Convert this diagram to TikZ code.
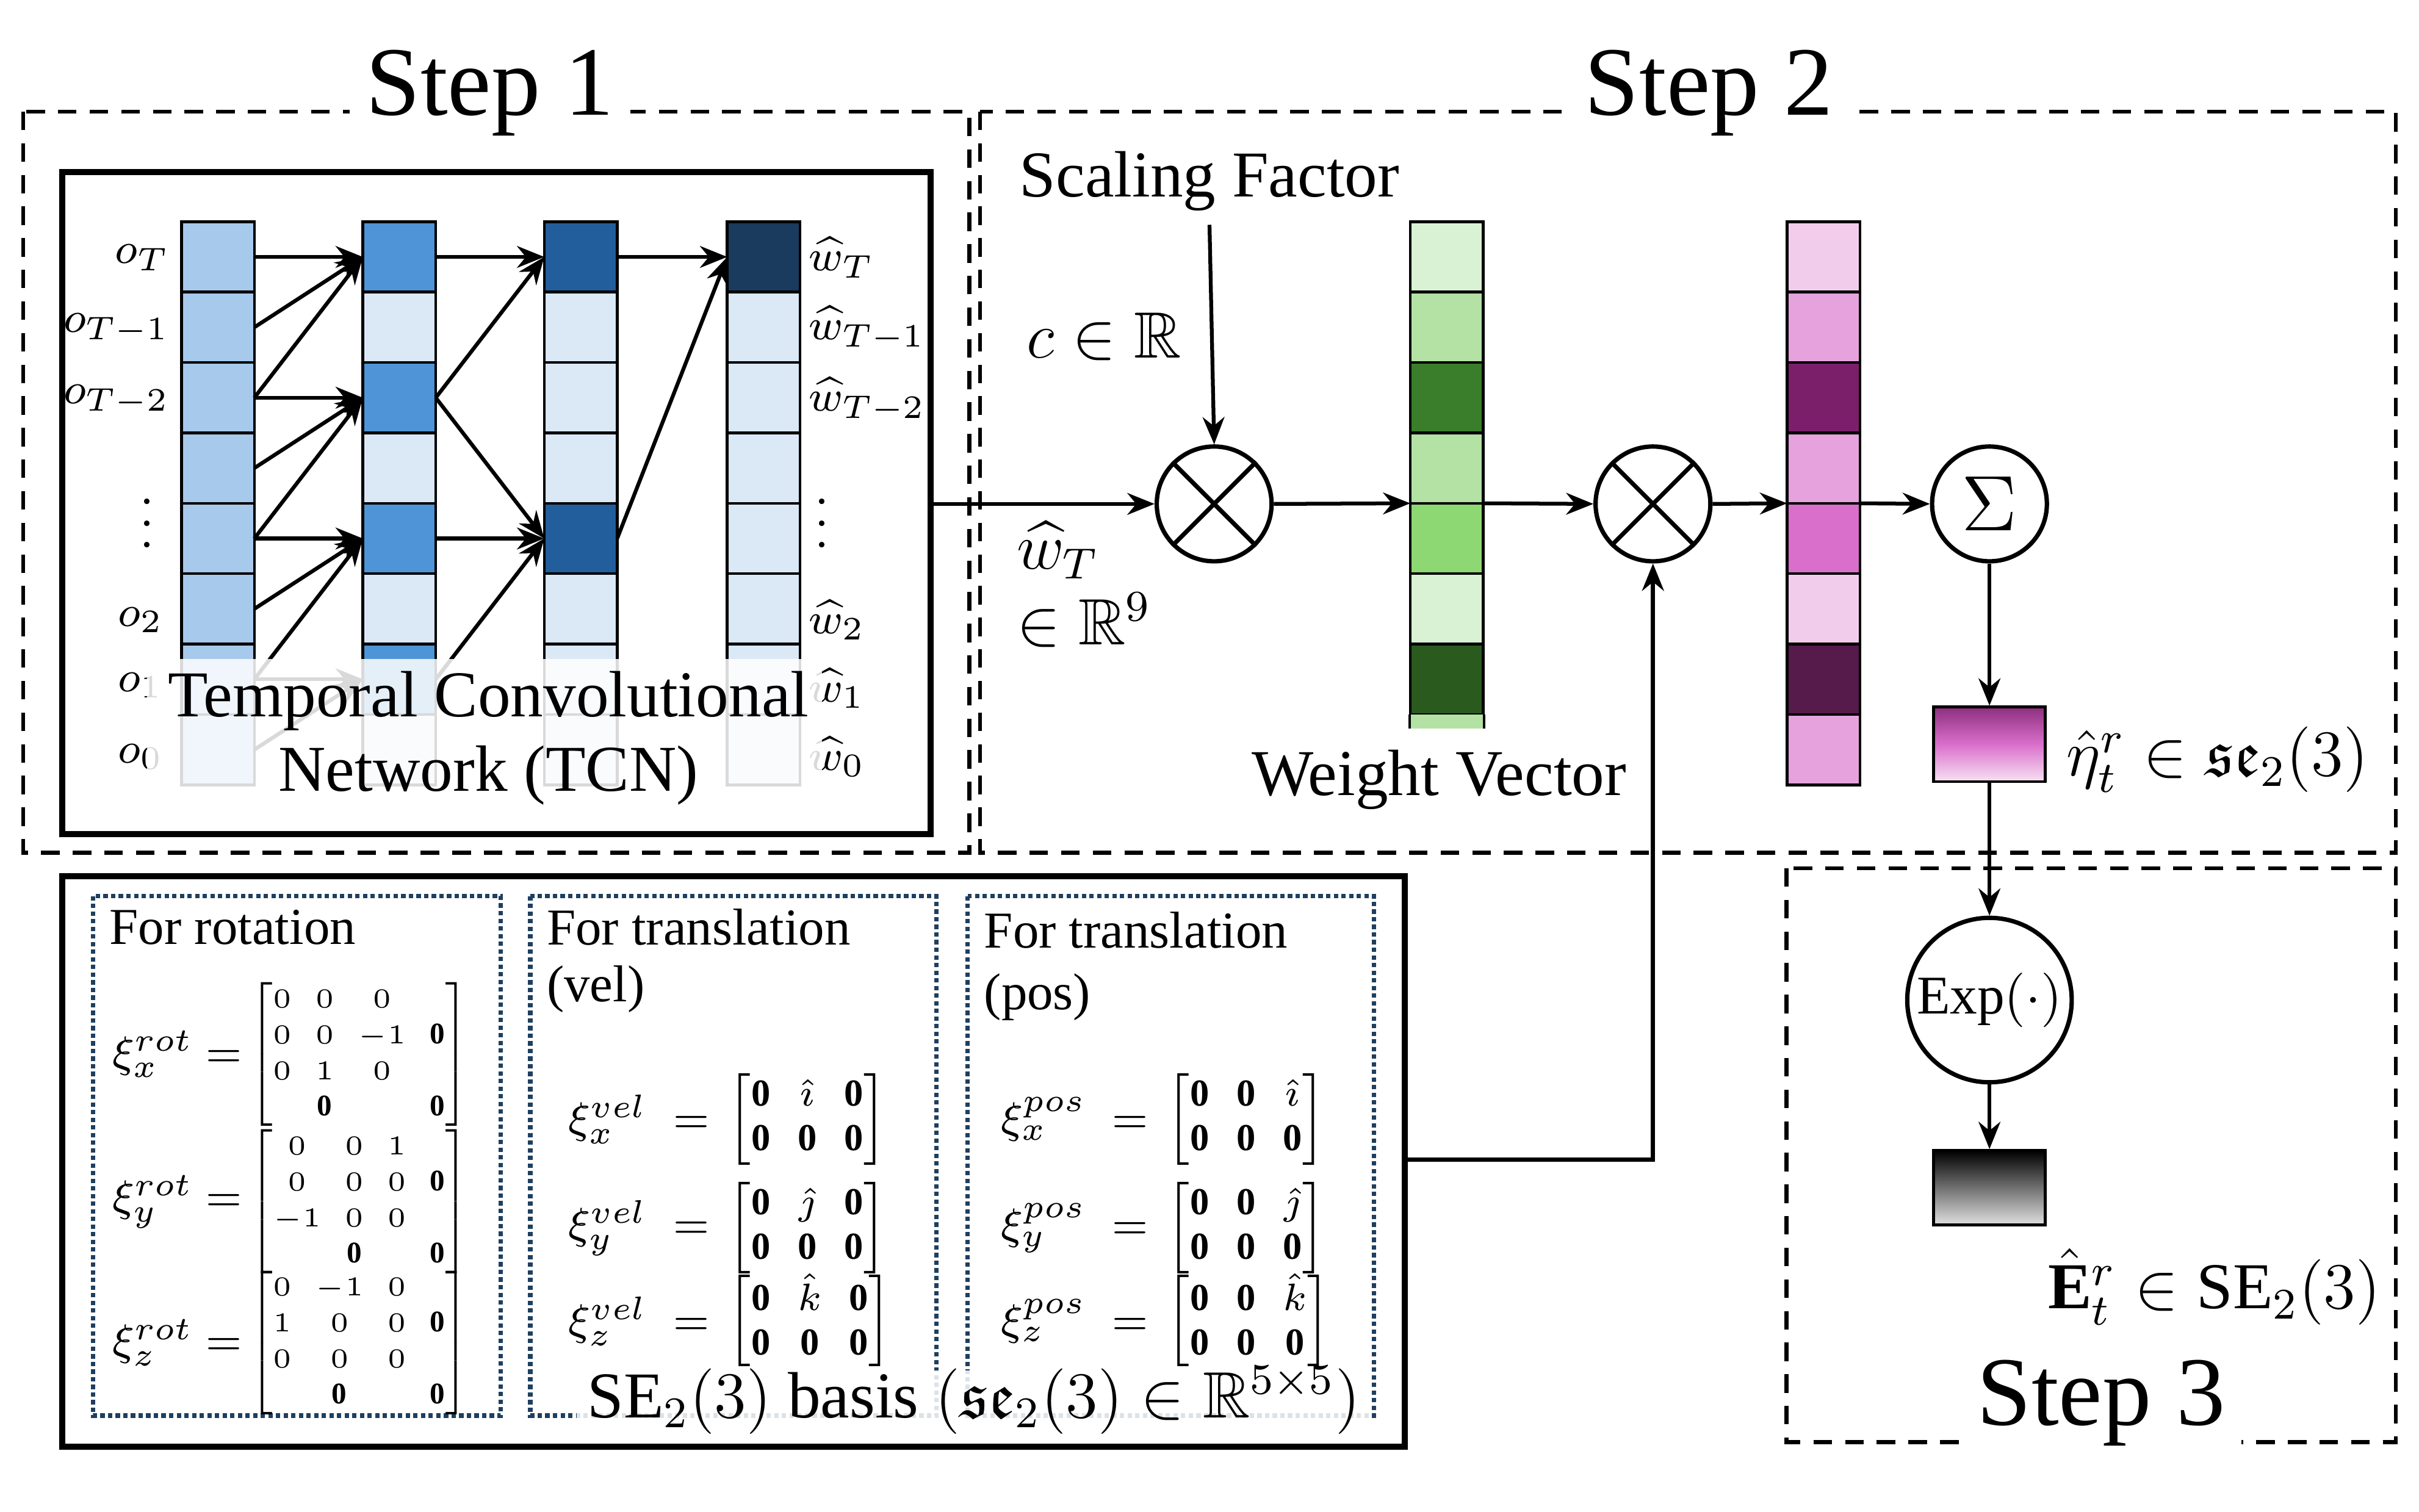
\documentclass[tikz,border=0pt]{standalone}
\usepackage{amsmath,amssymb}
\usepackage{fontspec}
\setmainfont{Liberation Serif}
\usetikzlibrary{arrows.meta}
\definecolor{cA}{HTML}{A6C9EC}
\definecolor{cB}{HTML}{4F94D6}
\definecolor{cC}{HTML}{225E9C}
\definecolor{cD}{HTML}{1A3A5E}
\definecolor{cL}{HTML}{DBE8F6}
\definecolor{g1}{HTML}{DAF2D4}
\definecolor{g2}{HTML}{B3E2A4}
\definecolor{g3}{HTML}{3A7D2A}
\definecolor{g4}{HTML}{8DD873}
\definecolor{g5}{HTML}{2A5A1E}
\definecolor{p1}{HTML}{F2CDEB}
\definecolor{p2}{HTML}{E6A2DC}
\definecolor{p3}{HTML}{7B1F6A}
\definecolor{p4}{HTML}{D96FCB}
\definecolor{p5}{HTML}{561A4B}
\definecolor{dotc}{HTML}{1F3F5F}
\begin{document}
\begin{tikzpicture}[x=0.01cm,y=-0.01cm,
  dbox/.style={draw, line width=0.75pt, dash pattern=on 3.4pt off 2.4pt},
  sbox/.style={draw, line width=1.1pt},
  ibox/.style={draw=dotc, line width=0.8pt, dash pattern=on 0.8pt off 0.6pt},
  cell/.style={draw, line width=0.5pt, minimum width=0.47cm, minimum height=0.454cm, inner sep=0pt, outer sep=0pt},
  arr/.style={-{Stealth[length=5pt,width=4pt]}, line width=0.7pt},
  circ/.style={draw, circle, line width=0.8pt, inner sep=0pt, minimum size=0.74cm},
  steptitle/.style={fill=white, inner sep=3pt, font=\fontsize{18}{21}\selectfont},
  lab/.style={font=\fontsize{8.5}{10}\selectfont, inner sep=0pt},
  big/.style={font=\fontsize{12}{14}\selectfont, inner sep=0pt},
  mid/.style={font=\fontsize{9.5}{11}\selectfont, inner sep=0pt},
  rmat/.style={font=\fontsize{5.5}{6.6}\selectfont, inner sep=0pt, anchor=west, xshift=1pt},
  tmat/.style={font=\fontsize{7}{8.2}\selectfont, inner sep=0pt, anchor=west, xshift=3pt}]
\useasboundingbox (0,0) rectangle (1560,975);
\fill[white] (0,0) rectangle (1560,975);
% step boxes
\draw[dbox] (15,72) rectangle (625,550);
\draw[dbox] (632,72) rectangle (1545,550);
\draw[dbox] (1152,560) rectangle (1545,930);
\node[steptitle] (s1) at (316,60) {Step 1};
\node[steptitle] (s2) at (1102,60) {Step 2};
\node[steptitle] (s3) at (1355,905) {Step 3};
% TCN
\draw[sbox] (40,111) rectangle (600,538);
\foreach \c/\x in {1/117,2/234,3/351,4/469}{
  \foreach \r in {0,...,7}{
    \pgfmathsetmacro{\yy}{143+45.4*\r+22.7}
    \def\col{cL}
    \ifnum\c=1 \def\col{cA}\fi
    \ifnum\c=2 \ifodd\r\else\def\col{cB}\fi\fi
    \ifnum\c=3 \ifnum\r=0 \def\col{cC}\fi\ifnum\r=4 \def\col{cC}\fi\fi
    \ifnum\c=4 \ifnum\r=0 \def\col{cD}\fi\fi
    \node[cell, fill=\col] (c\c r\r) at (\x+23.5,\yy) {};
  }}
\foreach \a/\b in {0/0,1/0,2/0,2/2,3/2,4/2,4/4,5/4,6/4,6/6,7/6}{
  \draw[arr] (c1r\a.east) -- (c2r\b.west);}
\foreach \a/\b in {0/0,2/0,2/4,4/4,6/4}{
  \draw[arr] (c2r\a.east) -- (c3r\b.west);}
\foreach \a/\b in {0/0,4/0}{
  \draw[arr] (c3r\a.east) -- (c4r\b.west);}
% labels
\node[lab, anchor=east] (lo0) at (110,166) {$o_T$};
\node[lab, anchor=east] (lo1) at (110,212) {$o_{T-1}$};
\node[lab, anchor=east] (lo2) at (110,258) {$o_{T-2}$};
\node[lab] (lod) at (95,327) {$\vdots$};
\node[lab, anchor=east] (lo5) at (106,400) {$o_2$};
\node[lab, anchor=east] (lo6) at (106,442) {$o_1$};
\node[lab, anchor=east] (lo7) at (106,488) {$o_0$};
\node[lab, anchor=west] (lw0) at (521,166) {$\widehat{w}_T$};
\node[lab, anchor=west] (lw1) at (521,212) {$\widehat{w}_{T-1}$};
\node[lab, anchor=west] (lw2) at (521,258) {$\widehat{w}_{T-2}$};
\node[lab] (lwd) at (530,327) {$\vdots$};
\node[lab, anchor=west] (lw5) at (521,400) {$\widehat{w}_2$};
\node[lab, anchor=west] (lw6) at (521,444) {$\widehat{w}_1$};
\node[lab, anchor=west] (lw7) at (521,488) {$\widehat{w}_0$};
\fill[white, opacity=0.85] (95,425) rectangle (530,512);
\node[big] (t1) at (315,452) {Temporal Convolutional};
\node[big] (t2) at (315,500) {Network (TCN)};
% step 2
\coordinate (tcnout) at (600,325);
\node[circ] (m1) at (783,325) {};
\draw[line width=0.8pt] (m1.45) -- (m1.225) (m1.135) -- (m1.315);
\node[big] (sf) at (780,117) {Scaling Factor};
\node[big] (cr) at (712,217) {$c\in\mathbb{R}$};
\coordinate (sfb) at (780,145);
\draw[arr] (sfb) -- (m1.north);
\draw[arr] (tcnout) -- (m1.west);
\node[big, anchor=west] (wt) at (655,355) {$\widehat{w}_T$};
\node[big, anchor=west] (r9) at (655,400) {$\in\mathbb{R}^9$};
\foreach \r/\col in {0/g1,1/g2,2/g3,3/g2,4/g4,5/g1,6/g5}{
  \node[cell, fill=\col] (g\r) at (933,143+45.4*\r+22.7) {};}
\fill[g2] (909.5,461) rectangle (956.5,470);
\draw[line width=0.5pt] (909,461) -- (909,470) (957,461) -- (957,470);
\node[big] (wv) at (928,503) {Weight Vector};
\draw[arr] (m1.east) -- (g3.south west);
\node[circ] (m2) at (1066,325) {};
\draw[line width=0.8pt] (m2.45) -- (m2.225) (m2.135) -- (m2.315);
\draw[arr] (g3.south east) -- (m2.west);
\foreach \r/\col in {0/p1,1/p2,2/p3,3/p2,4/p4,5/p1,6/p5,7/p2}{
  \node[cell, fill=\col] (p\r) at (1176,143+45.4*\r+22.7) {};}
\draw[arr] (m2.east) -- (p3.south west);
\node[circ, font=\fontsize{14}{16}\selectfont] (sum) at (1283,325) {$\Sigma$};
\draw[arr] (p3.south east) -- (sum.west);
\node[draw, line width=0.5pt, minimum width=0.72cm, minimum height=0.48cm, inner sep=0pt, top color=p3!80!p4, bottom color=p1!60!white, middle color=p4] (eta) at (1283,480) {};
\draw[arr] (sum.south) -- (eta.north);
\node[big, anchor=west] (etal) at (1332,490) {$\hat{\eta}_t^r\in\mathfrak{se}_2(3)$};
% step 3
\node[draw, circle, line width=0.8pt, minimum size=1.06cm, inner sep=0pt, font=\fontsize{10}{12}\selectfont] (exp) at (1283,645) {Exp$(\cdot)$};
\draw[arr] (eta.south) -- (exp.north);
\node[draw, line width=0.5pt, minimum width=0.72cm, minimum height=0.48cm, inner sep=0pt, top color=black, bottom color=black!12] (E) at (1283,766) {};
\draw[arr] (exp.south) -- (E.north);
\node[big, anchor=east] (El) at (1536,830) {$\hat{\mathbf{E}}_t^r\in\mathrm{SE}_2(3)$};
% basis box
\draw[sbox] (40,565) rectangle (906,933);
\coordinate (bout) at (906,748);
\draw[arr, line width=0.8pt] (bout) -- (1066,748) -- (m2.south);
\draw[ibox] (60,578) rectangle (323,913);
\draw[ibox] (342,578) rectangle (604,913);
\draw[ibox] (624,578) rectangle (886,913);
\node[mid, anchor=west] (fr) at (70,598) {For rotation};
\node[mid, anchor=west] (ft1) at (352,598) {For translation};
\node[mid, anchor=west] (fv) at (352,638) {(vel)};
\node[mid, anchor=west] (ft2) at (634,600) {For translation};
\node[mid, anchor=west] (fp) at (634,643) {(pos)};
% rotation
\node[lab, anchor=west] (rx) at (72,680) {$\xi_x^{rot}=$};
\node[rmat] (mx) at (rx.east) {$\setlength{\arraycolsep}{2.2pt}\begin{bmatrix}0&0&0&\\0&0&-1&\mathbf{0}\\0&1&0&\\&\mathbf{0}&&\mathbf{0}\end{bmatrix}$};
\node[lab, anchor=west] (ry) at (72,775) {$\xi_y^{rot}=$};
\node[rmat] (my) at (ry.east) {$\setlength{\arraycolsep}{2.2pt}\begin{bmatrix}0&0&1&\\0&0&0&\mathbf{0}\\-1&0&0&\\&\mathbf{0}&&\mathbf{0}\end{bmatrix}$};
\node[lab, anchor=west] (rz) at (72,866) {$\xi_z^{rot}=$};
\node[rmat] (mz) at (rz.east) {$\setlength{\arraycolsep}{2.2pt}\begin{bmatrix}0&-1&0&\\1&0&0&\mathbf{0}\\0&0&0&\\&\mathbf{0}&&\mathbf{0}\end{bmatrix}$};
% vel
\node[lab, anchor=west] (vx) at (366,722) {$\xi_x^{vel}\;=$};
\node[tmat] (mvx) at (vx.east) {$\setlength{\arraycolsep}{2.5pt}\begin{bmatrix}\mathbf0&\hat\imath&\mathbf0\\\mathbf0&\mathbf0&\mathbf0\end{bmatrix}$};
\node[lab, anchor=west] (vy) at (366,792) {$\xi_y^{vel}\;=$};
\node[tmat] (mvy) at (vy.east) {$\setlength{\arraycolsep}{2.5pt}\begin{bmatrix}\mathbf0&\hat\jmath&\mathbf0\\\mathbf0&\mathbf0&\mathbf0\end{bmatrix}$};
\node[lab, anchor=west] (vz) at (366,852) {$\xi_z^{vel}\;=$};
\node[tmat] (mvz) at (vz.east) {$\setlength{\arraycolsep}{2.5pt}\begin{bmatrix}\mathbf0&\hat k&\mathbf0\\\mathbf0&\mathbf0&\mathbf0\end{bmatrix}$};
% pos
\node[lab, anchor=west] (px) at (645,722) {$\xi_x^{pos}\;=$};
\node[tmat] (mpx) at (px.east) {$\setlength{\arraycolsep}{2.5pt}\begin{bmatrix}\mathbf0&\mathbf0&\hat\imath\\\mathbf0&\mathbf0&\mathbf0\end{bmatrix}$};
\node[lab, anchor=west] (py) at (645,792) {$\xi_y^{pos}\;=$};
\node[tmat] (mpy) at (py.east) {$\setlength{\arraycolsep}{2.5pt}\begin{bmatrix}\mathbf0&\mathbf0&\hat\jmath\\\mathbf0&\mathbf0&\mathbf0\end{bmatrix}$};
\node[lab, anchor=west] (pz) at (645,852) {$\xi_z^{pos}\;=$};
\node[tmat] (mpz) at (pz.east) {$\setlength{\arraycolsep}{2.5pt}\begin{bmatrix}\mathbf0&\mathbf0&\hat k\\\mathbf0&\mathbf0&\mathbf0\end{bmatrix}$};
\fill[white, opacity=0.85] (372,884) rectangle (884,925);
\node[big] (basis) at (628,903) {$\mathrm{SE}_2(3)$ basis $(\mathfrak{se}_2(3)\in\mathbb{R}^{5\times5})$};
\end{tikzpicture}
\end{document}
